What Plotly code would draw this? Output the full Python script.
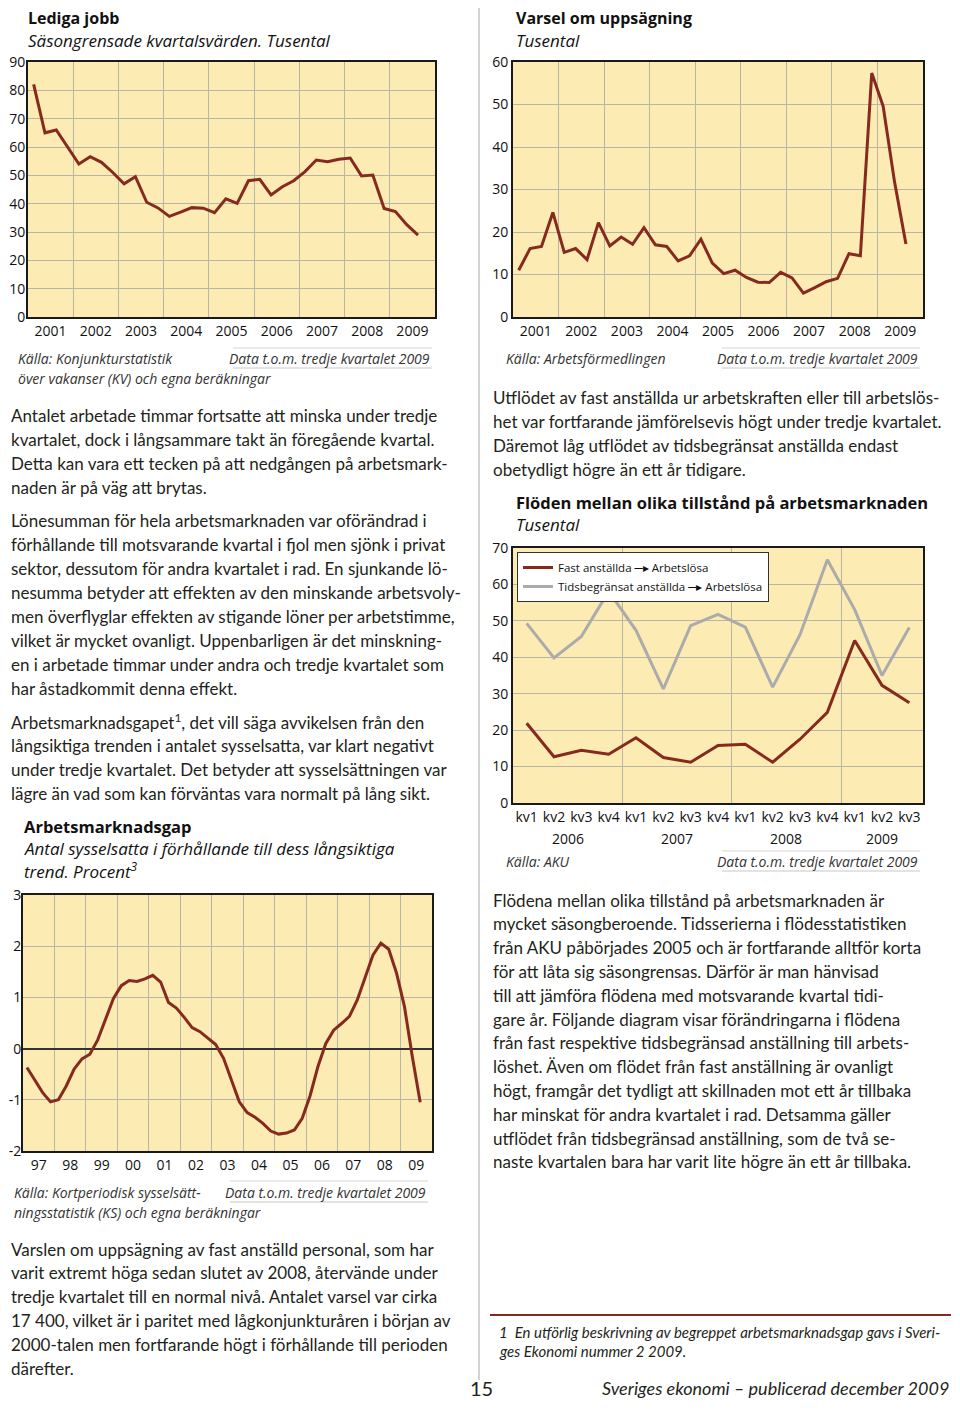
import plotly.graph_objects as go

# Page is drawn inside the default 8px body margin of the HTML page
OFF = 8
W, H = 960 - 2 * OFF, 1410 - 2 * OFF
def px(x): return (x - OFF) / W
def py(y): return 1 - (y - OFF) / H

# ---------------- DATA ----------------
lj_periods = ["2001K1","2001K2","2001K3","2001K4","2002K1","2002K2","2002K3","2002K4",
              "2003K1","2003K2","2003K3","2003K4","2004K1","2004K2","2004K3","2004K4",
              "2005K1","2005K2","2005K3","2005K4","2006K1","2006K2","2006K3","2006K4",
              "2007K1","2007K2","2007K3","2007K4","2008K1","2008K2","2008K3","2008K4",
              "2009K1","2009K2","2009K3"]
lediga_jobb = [82.1, 65.0, 66.0, 60.0, 54.0, 56.6, 54.6, 51.0, 47.0, 49.5, 40.5, 38.5,
               35.5, 37.0, 38.6, 38.4, 36.8, 41.7, 40.1, 48.1, 48.6, 43.1, 46.0, 48.1,
               51.3, 55.4, 54.8, 55.7, 56.1, 49.8, 50.1, 38.3, 37.2, 32.6, 28.9]
varsel = [11.0, 16.1, 16.6, 24.6, 15.2, 16.1, 13.5, 22.2, 16.7, 18.8, 17.1, 21.0,
          17.0, 16.6, 13.2, 14.4, 18.3, 12.7, 10.2, 11.0, 9.3, 8.2, 8.1, 10.5,
          9.2, 5.6, 6.9, 8.3, 9.1, 14.9, 14.4, 57.4, 49.6, 31.8, 17.2]
year_labels_01_09 = ["2001","2002","2003","2004","2005","2006","2007","2008","2009"]

flode_kvartal = ["kv1","kv2","kv3","kv4","kv1","kv2","kv3","kv4",
                 "kv1","kv2","kv3","kv4","kv1","kv2","kv3"]
flode_ar = ["2006","2006","2006","2006","2007","2007","2007","2007",
            "2008","2008","2008","2008","2009","2009","2009"]
fast_till_arbetslos = [21.9, 12.7, 14.5, 13.4, 17.9, 12.5, 11.2, 15.8, 16.1, 11.2,
                       17.5, 24.9, 44.6, 32.3, 27.5]
tidsbegr_till_arbetslos = [49.3, 39.8, 45.7, 58.1, 47.4, 31.3, 48.7, 51.8, 48.3, 31.8,
                           46.2, 66.8, 53.1, 35.0, 48.2]

gap_periods = [f"{y}K{q}" for y in range(1997, 2010) for q in (1, 2, 3, 4)][:51]
arbetsmarknadsgap = [-0.37, -0.61, -0.86, -1.04, -1.00, -0.73, -0.40, -0.20, -0.11, 0.17,
                     0.58, 0.98, 1.23, 1.33, 1.31, 1.36, 1.43, 1.30, 0.90, 0.79,
                     0.61, 0.41, 0.33, 0.21, 0.08, -0.19, -0.61, -1.04, -1.25, -1.34,
                     -1.46, -1.61, -1.67, -1.65, -1.59, -1.36, -0.92, -0.35, 0.10, 0.36,
                     0.49, 0.63, 0.95, 1.41, 1.83, 2.06, 1.94, 1.47, 0.82, -0.16, -1.05]
year_labels_97_09 = ["97","98","99","00","01","02","03","04","05","06","07","08","09"]
gap_ticks_y = ["-2", "-1", "0", "1", "2", "3"]

# ---------------- STYLE ----------------
RED = "#862a1f"
GRAY_LINE = "#ababab"
BG = "#fcebb2"
GRID = "#b9b5a6"
CF = "Open Sans"
BF = "Lato"
TXT = "#231f20"

def period_x(p):
    y, q = p.split("K")
    return int(y) + (int(q) - 0.5) / 4

fig = go.Figure()

fig.add_trace(go.Scatter(x=[period_x(p) for p in lj_periods], y=lediga_jobb, mode="lines",
                         line=dict(color=RED, width=3), showlegend=False, xaxis="x", yaxis="y"))
fig.add_trace(go.Scatter(x=[period_x(p) for p in lj_periods], y=varsel, mode="lines",
                         line=dict(color=RED, width=3), showlegend=False, xaxis="x2", yaxis="y2"))
idx = list(range(len(flode_kvartal)))
fig.add_trace(go.Scatter(x=idx, y=fast_till_arbetslos, mode="lines",
                         name="Fast anställda \u2500\u25B8 Arbetslösa",
                         line=dict(color=RED, width=3), xaxis="x3", yaxis="y3"))
fig.add_trace(go.Scatter(x=idx, y=tidsbegr_till_arbetslos, mode="lines",
                         name="Tidsbegränsat anställda \u2500\u25B8 Arbetslösa",
                         line=dict(color=GRAY_LINE, width=3), xaxis="x3", yaxis="y3"))
fig.add_trace(go.Scatter(x=[period_x(p) for p in gap_periods], y=arbetsmarknadsgap, mode="lines",
                         line=dict(color=RED, width=3), showlegend=False, xaxis="x4", yaxis="y4"))

tickfont = dict(family=CF, size=14, color="#111")
common_x = dict(showline=True, mirror=True, linecolor="#1a1a1a", linewidth=2, ticks="",
                showgrid=False, zeroline=False, tickfont=tickfont, fixedrange=True, automargin=False)
common_y = dict(showline=True, mirror=True, linecolor="#1a1a1a", linewidth=2, ticks="",
                showgrid=True, gridcolor=GRID, gridwidth=1, zeroline=False,
                tickfont=tickfont, fixedrange=True, automargin=False)

yrs01 = [int(s) for s in year_labels_01_09]
yrs97 = [1997 + i for i in range(len(year_labels_97_09))]

fig.update_layout(
    width=W, height=H, margin=dict(l=0, r=0, t=0, b=0, autoexpand=False),
    paper_bgcolor="white", plot_bgcolor=BG,
    xaxis=dict(common_x, domain=[px(28), px(435)], anchor="y", range=[2001, 2010],
               tickmode="array", tickvals=[y + 0.5 for y in yrs01], ticktext=year_labels_01_09,
               minor=dict(tickmode="array", tickvals=yrs01[1:], showgrid=True, gridcolor=GRID, gridwidth=1)),
    yaxis=dict(common_y, domain=[py(317), py(62)], anchor="x", range=[0, 90], dtick=10,
               ticklabelstandoff=-2),
    xaxis2=dict(common_x, domain=[px(513), px(923)], anchor="y2", range=[2001, 2010],
                tickmode="array", tickvals=[y + 0.5 for y in yrs01], ticktext=year_labels_01_09,
                minor=dict(tickmode="array", tickvals=yrs01[1:], showgrid=True, gridcolor=GRID, gridwidth=1)),
    yaxis2=dict(common_y, domain=[py(317), py(62)], anchor="x2", range=[0, 60], dtick=10),
    xaxis3=dict(common_x, domain=[px(513), px(923)], anchor="y3", range=[-0.5, len(idx) - 0.5],
                tickmode="array", tickvals=idx, ticktext=flode_kvartal,
                minor=dict(tickmode="array", tickvals=[3.5, 7.5, 11.5], showgrid=True, gridcolor=GRID, gridwidth=1)),
    yaxis3=dict(common_y, domain=[py(803), py(548)], anchor="x3", range=[0, 70], dtick=10),
    xaxis4=dict(common_x, domain=[px(23), px(432)], anchor="y4", range=[1997, 2010],
                tickmode="array", tickvals=[y + 0.5 for y in yrs97], ticktext=year_labels_97_09,
                minor=dict(tickmode="array", tickvals=yrs97[1:], showgrid=True, gridcolor=GRID, gridwidth=1)),
    yaxis4=dict(common_y, domain=[py(1151), py(895)], anchor="x4", range=[-2, 3],
                tickmode="array", tickvals=[int(v) for v in gap_ticks_y], ticktext=gap_ticks_y,
                zeroline=True, zerolinecolor="#333", zerolinewidth=1.5, ticklabelstandoff=-3),
    legend=dict(x=px(517), y=py(552), xanchor="left", yanchor="top", bgcolor="white",
                bordercolor="#333", borderwidth=1, font=dict(family=CF, size=11.5, color="#111"),
                itemwidth=30, tracegroupgap=0),
)

ann = []
def txt(x, y, s, size=17, family=BF, color=TXT, xanchor="left", style="normal", weight="normal"):
    ann.append(dict(x=px(x), y=py(y), xref="paper", yref="paper", text=s, showarrow=False,
                    xanchor=xanchor, yanchor="middle",
                    font=dict(family=family, size=size, color=color, style=style, weight=weight)))

def title(x, y, s, size=16.5): txt(x, y, s, size=size, family=CF, color="#111", weight="bold")
def sub(x, y, s): txt(x, y, s, size=17, family=CF, color="#111", style="italic")
def src(x, y, s, xanchor="left"): txt(x, y, s, size=14, family=CF, color="#333", style="italic", xanchor=xanchor)

# Chart titles
title(26, 17.5, "Lediga jobb", 16); sub(26, 40.5, "Säsongrensade kvartalsvärden. Tusental")
title(514, 17.5, "Varsel om uppsägning", 16); sub(514, 40.5, "Tusental")
title(514, 502, "Flöden mellan olika tillstånd på arbetsmarknaden"); sub(514, 524, "Tusental")
title(22, 826, "Arbetsmarknadsgap")
sub(22, 848, "Antal sysselsatta i förhållande till dess långsiktiga")
sub(22, 870, "trend. Procent<sup>3</sup>")

# Sources
src(16, 358, "Källa: Konjunkturstatistik"); src(16, 379, "över vakanser (KV) och egna beräkningar")
src(432, 358, "Data t.o.m. tredje kvartalet 2009", "right")
src(504, 358, "Källa: Arbetsförmedlingen"); src(920, 358, "Data t.o.m. tredje kvartalet 2009", "right")
src(504, 861, "Källa: AKU"); src(920, 861, "Data t.o.m. tredje kvartalet 2009", "right")
src(12, 1192, "Källa: Kortperiodisk sysselsätt-"); src(12, 1212, "ningsstatistik (KS) och egna beräkningar")
src(428, 1192, "Data t.o.m. tredje kvartalet 2009", "right")

# Year labels under the flow chart (centered on each year's quarters)
for yr in dict.fromkeys(flode_ar):
    pos = [i for i, a in enumerate(flode_ar) if a == yr]
    ann.append(dict(x=sum(pos) / len(pos), y=py(838), xref="x3", yref="paper", text=yr,
                    showarrow=False, xanchor="center", yanchor="middle", font=tickfont))

# Body text
LX = 9
left1 = ["Antalet arbetade timmar fortsatte att minska under tredje",
         "kvartalet, dock i långsammare takt än föregående kvartal.",
         "Detta kan vara ett tecken på att nedgången på arbetsmark-",
         "naden är på väg att brytas."]
for i, s in enumerate(left1): txt(LX, 415 + i * 24, s)
left2 = ["Lönesumman för hela arbetsmarknaden var oförändrad i",
         "förhållande till motsvarande kvartal i fjol men sjönk i privat",
         "sektor, dessutom för andra kvartalet i rad. En sjunkande lö-",
         "nesumma betyder att effekten av den minskande arbetsvoly-",
         "men överflyglar effekten av stigande löner per arbetstimme,",
         "vilket är mycket ovanligt. Uppenbarligen är det minskning-",
         "en i arbetade timmar under andra och tredje kvartalet som",
         "har åstadkommit denna effekt."]
for i, s in enumerate(left2): txt(LX, 521 + i * 23.86, s)
left3 = ["Arbetsmarknadsgapet<sup>1</sup>, det vill säga avvikelsen från den",
         "långsiktiga trenden i antalet sysselsatta, var klart negativt",
         "under tredje kvartalet. Det betyder att sysselsättningen var",
         "lägre än vad som kan förväntas vara normalt på lång sikt."]
for i, s in enumerate(left3): txt(LX, 721 + i * 24, s)
left4 = ["Varslen om uppsägning av fast anställd personal, som har",
         "varit extremt höga sedan slutet av 2008, återvände under",
         "tredje kvartalet till en normal nivå. Antalet varsel var cirka",
         "17 400, vilket är i paritet med lågkonjunkturåren i början av",
         "2000-talen men fortfarande högt i förhållande till perioden",
         "därefter."]
for i, s in enumerate(left4): txt(LX, 1249 + i * 23.8, s)
right1 = ["Utflödet av fast anställda ur arbetskraften eller till arbetslös-",
          "het var fortfarande jämförelsevis högt under tredje kvartalet.",
          "Däremot låg utflödet av tidsbegränsat anställda endast",
          "obetydligt högre än ett år tidigare."]
for i, s in enumerate(right1): txt(491, 397 + i * 24, s)
right2 = ["Flödena mellan olika tillstånd på arbetsmarknaden är",
          "mycket säsongberoende. Tidsserierna i flödesstatistiken",
          "från AKU påbörjades 2005 och är fortfarande alltför korta",
          "för att låta sig säsongrensas. Därför är man hänvisad",
          "till att jämföra flödena med motsvarande kvartal tidi-",
          "gare år. Följande diagram visar förändringarna i flödena",
          "från fast respektive tidsbegränsad anställning till arbets-",
          "löshet. Även om flödet från fast anställning är ovanligt",
          "högt, framgår det tydligt att skillnaden mot ett år tillbaka",
          "har minskat för andra kvartalet i rad. Detsamma gäller",
          "utflödet från tidsbegränsad anställning, som de två se-",
          "naste kvartalen bara har varit lite högre än ett år tillbaka."]
for i, s in enumerate(right2): txt(491, 900 + i * 23.8, s)

# Footnote and footer
txt(497, 1332, "1  En utförlig beskrivning av begreppet arbetsmarknadsgap gavs i Sveri-", size=15, style="italic")
txt(497, 1351, "ges Ekonomi nummer 2 2009.", size=15, style="italic")
txt(481, 1388, "15", size=20, xanchor="center")
txt(951, 1388, "Sveriges ekonomi – publicerad december 2009", size=18, style="italic", xanchor="right")

fig.update_layout(annotations=ann)

# Decorative page elements
shapes = []
def hline(x0, x1, y, color, w):
    shapes.append(dict(type="line", xref="paper", yref="paper", x0=px(x0), x1=px(x1),
                       y0=py(y), y1=py(y), line=dict(color=color, width=w)))
shapes.append(dict(type="line", xref="paper", yref="paper", x0=px(479), x1=px(479),
                   y0=py(OFF), y1=py(1380), line=dict(color="#c4c4c4", width=1.5)))
for (x0, x1, yt, yb) in [(233, 432, 348, 368), (722, 920, 348, 368), (722, 920, 851, 871), (230, 428, 1181, 1202)]:
    hline(x0, x1, yt, "#d6d6d6", 1)
    hline(x0, x1, yb, "#c8c8c8", 1)
hline(490, 951, 1315, RED, 2)
fig.update_layout(shapes=shapes)

fig.write_html("out.html")
